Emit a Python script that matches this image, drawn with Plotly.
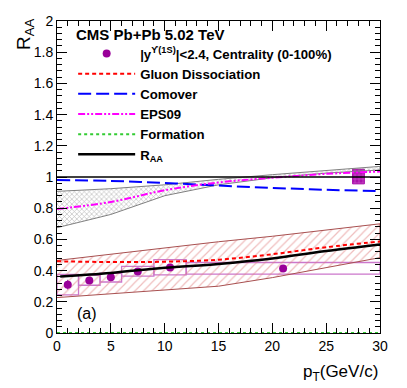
import plotly.graph_objects as go

# --- data ---
pt_pts = [1.0, 3.0, 5.0, 7.5, 10.5, 21.0]
raa_pts = [0.31, 0.337, 0.358, 0.394, 0.42, 0.414]
raa_stat = [0.031, 0.012, 0.01, 0.01, 0.012, 0.012]
box_lo_x = [0, 2, 4, 6, 9, 12]
box_hi_x = [2, 4, 6, 9, 12, 30]
syst_lo = [0.245, 0.306, 0.327, 0.365, 0.373, 0.377]
syst_hi = [0.375, 0.37, 0.383, 0.427, 0.47, 0.452]

glob_x = [28.0]
glob_lo = [0.956]
glob_hi = [1.05]

model_pt = [0, 5, 10, 15, 20, 25, 30]
gluon = [0.46, 0.455, 0.457, 0.47, 0.505, 0.55, 0.587]
comover = [0.98, 0.975, 0.962, 0.945, 0.93, 0.918, 0.91]
eps09 = [0.795, 0.84, 0.915, 0.965, 0.995, 1.02, 1.035]
eps09_hi = [0.908, 0.925, 0.95, 0.985, 1.015, 1.04, 1.068]
eps09_lo = [0.675, 0.76, 0.88, 0.95, 0.995, 1.025, 1.045]
band_hi = [0.465, 0.505, 0.545, 0.585, 0.62, 0.66, 0.70]
band_lo = [0.227, 0.25, 0.275, 0.30, 0.355, 0.42, 0.483]
formation = [0, 0, 0, 0, 0, 0, 0]

raa_pt = [0.3, 5, 10, 15, 20, 25, 30]
raa_curve = [0.362, 0.385, 0.418, 0.443, 0.478, 0.525, 0.567]

FONT = "Liberation Sans, Arial, Helvetica, sans-serif"
PURPLE = "#990099"

fig = go.Figure()

# hatched uncertainty bands
fig.add_trace(go.Scatter(
    x=model_pt + model_pt[::-1], y=band_hi + band_lo[::-1],
    fill="toself", mode="lines", line=dict(color="#a85050", width=1),
    fillcolor="rgba(0,0,0,0)",
    fillpattern=dict(shape="/", fgcolor="#e07c7c", bgcolor="rgba(0,0,0,0)", size=6, solidity=0.2),
    showlegend=False, hoverinfo="skip",
))
fig.add_trace(go.Scatter(
    x=model_pt + model_pt[::-1], y=eps09_hi + eps09_lo[::-1],
    fill="toself", mode="lines", line=dict(color="#808080", width=1),
    fillcolor="rgba(0,0,0,0)",
    fillpattern=dict(shape="x", fgcolor="#777777", bgcolor="rgba(0,0,0,0)", size=3.5, solidity=0.35),
    showlegend=False, hoverinfo="skip",
))

# systematic boxes
fig.add_trace(go.Bar(
    x=[(a + b) / 2 for a, b in zip(box_lo_x, box_hi_x)],
    width=[b - a for a, b in zip(box_lo_x, box_hi_x)],
    base=syst_lo, y=[h - l for h, l in zip(syst_hi, syst_lo)],
    marker=dict(color="rgba(0,0,0,0)", line=dict(color="#cc77cc", width=1.3)),
    showlegend=False, hoverinfo="skip",
))
# global uncertainty box
fig.add_trace(go.Bar(
    x=glob_x, width=[1.1], base=glob_lo, y=[h - l for h, l in zip(glob_hi, glob_lo)],
    marker=dict(color="#aa11aa", line=dict(color="#aa11aa", width=1),
                pattern=dict(shape="+", fgcolor="#ee99ee", size=4, solidity=0.3)),
    showlegend=False, hoverinfo="skip",
))

fig.add_hline(y=1, line_color="black", line_width=1.5)

fig.add_trace(go.Scatter(
    x=pt_pts, y=raa_pts, mode="markers",
    name="|y<sup>ϒ(1S)</sup>|<2.4, Centrality (0-100%)",
    marker=dict(color=PURPLE, size=8),
    error_y=dict(array=raa_stat, color=PURPLE, width=0, thickness=1),
))
fig.add_trace(go.Scatter(
    x=model_pt, y=gluon, mode="lines", name="Gluon Dissociation",
    line=dict(color="#ff0000", width=2, dash="4px,3px", shape="spline"),
))
fig.add_trace(go.Scatter(
    x=model_pt, y=comover, mode="lines", name="Comover",
    line=dict(color="#0000ff", width=2, dash="13px,5px", shape="spline"),
))
fig.add_trace(go.Scatter(
    x=model_pt, y=eps09, mode="lines", name="EPS09",
    line=dict(color="#ff00ff", width=2, dash="7px,2px,2px,2px,2px,2px", shape="spline"),
))
fig.add_trace(go.Scatter(
    x=model_pt, y=formation, mode="lines", name="Formation",
    line=dict(color="#33cc33", width=2, dash="dot"),
))
fig.add_trace(go.Scatter(
    x=raa_pt, y=raa_curve, mode="lines", name="R<sub>AA</sub>",
    line=dict(color="black", width=2.5, shape="spline"),
))

fig.add_annotation(x=2.74, y=0.125, text="(a)", showarrow=False,
                   font=dict(family=FONT, size=16, color="black"))
fig.add_annotation(xref="paper", yref="paper", x=0.053, y=0.956, xanchor="left",
                   yanchor="middle", text="<b>CMS Pb+Pb 5.02 TeV</b>", showarrow=False,
                   font=dict(family=FONT, size=15, color="black"))
fig.add_annotation(xref="paper", yref="paper", x=-0.099, y=1.016, xanchor="center",
                   yanchor="top", text="R<sub>AA</sub>", textangle=-90, showarrow=False,
                   font=dict(family=FONT, size=19, color="black"))
fig.add_annotation(xref="paper", yref="paper", x=1.0, y=-0.088, xanchor="right",
                   yanchor="top", text="p<sub>T</sub>(GeV/c)", showarrow=False,
                   font=dict(family=FONT, size=17, color="black"))

axis_common = dict(
    showline=True, linecolor="black", linewidth=1, mirror="ticks",
    ticks="inside", ticklen=10, tickcolor="black", showgrid=False, zeroline=False,
    tickfont=dict(family=FONT, size=14, color="black"), ticklabeloverflow="allow",
)
fig.update_xaxes(range=[0, 30], dtick=5,
                 minor=dict(ticks="inside", ticklen=5, dtick=1, tickcolor="black", showgrid=False),
                 **axis_common)
fig.update_yaxes(range=[0, 2], dtick=0.2,
                 minor=dict(ticks="inside", ticklen=5, dtick=0.04, tickcolor="black", showgrid=False),
                 **axis_common)

# page body adds an 8px offset, so the figure is 8px smaller than the window
fig.update_layout(
    width=399, height=380,
    margin=dict(l=49, r=27, t=5, b=55),
    paper_bgcolor="white", plot_bgcolor="white",
    barmode="overlay", showlegend=True,
    legend=dict(
        x=0.05, y=0.944, xanchor="left", yanchor="top",
        bgcolor="rgba(0,0,0,0)", itemwidth=57,
        font=dict(family=FONT, size=13.2, color="black", weight="bold"),
        tracegroupgap=0,
    ),
    font=dict(family=FONT),
)

fig.write_html("out.html")
